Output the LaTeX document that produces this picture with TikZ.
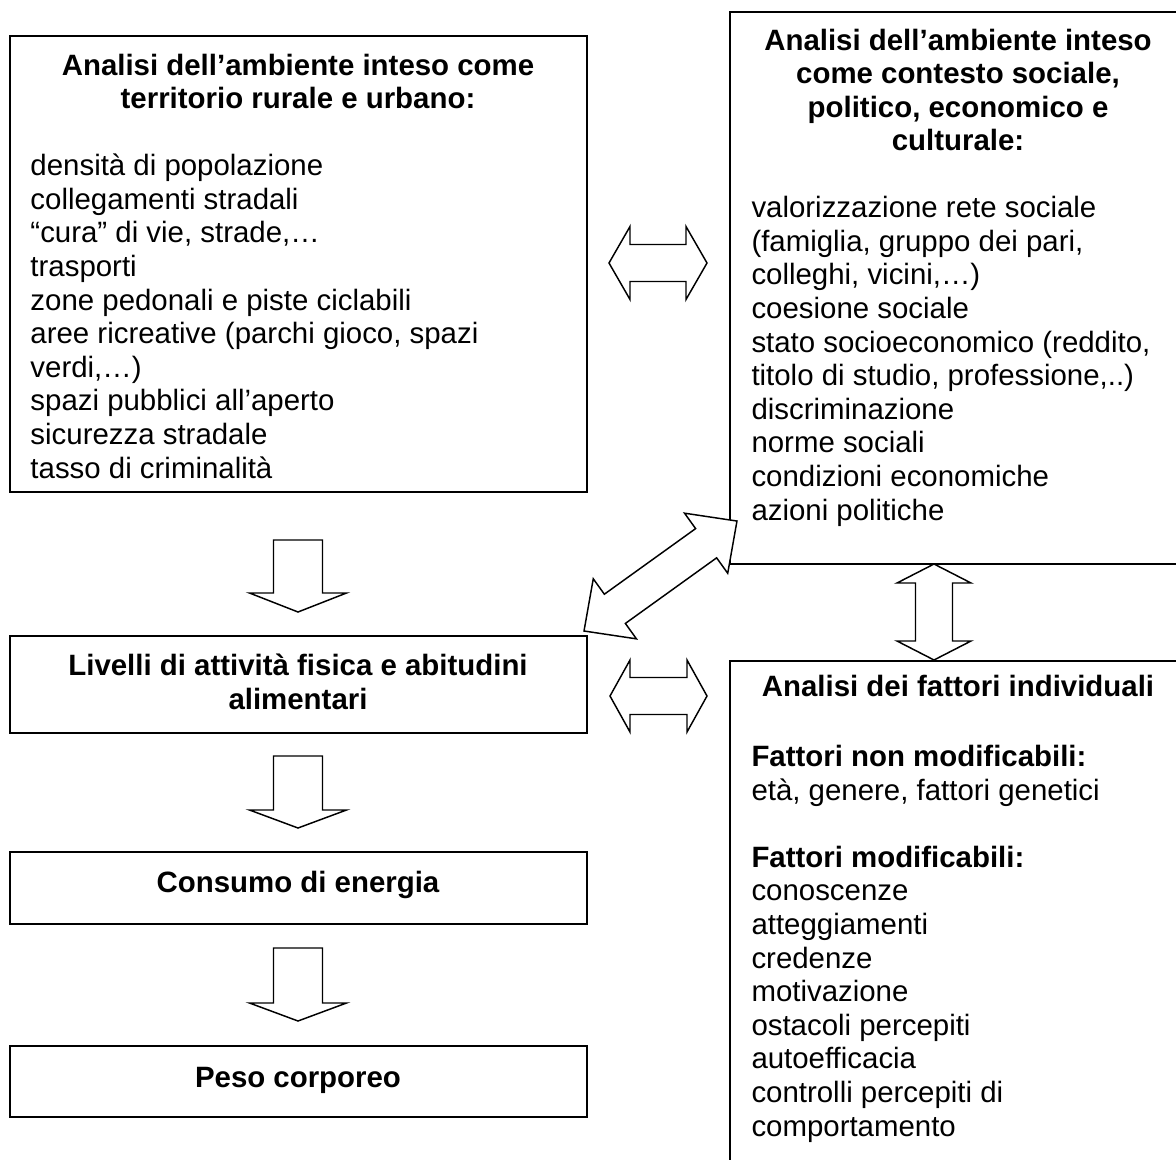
\documentclass[tikz,border=0pt]{standalone}
\usepackage{fontspec}
\setmainfont{Liberation Sans}
\usetikzlibrary{fit}
\newcommand\dblblock[4]{% length, half shaft, half head, head length
  \draw[blk] (0,0) -- (#4,#3) -- (#4,#2) -- ({#1-#4},#2) -- ({#1-#4},#3) -- (#1,0)
    -- ({#1-#4},-#3) -- ({#1-#4},-#2) -- (#4,-#2) -- (#4,-#3) -- cycle;}
\newcommand\sglblock[4]{% length, half shaft, half head, head length
  \draw[blk] (0,-#2) -- ({#1-#4},-#2) -- ({#1-#4},-#3) -- (#1,0) -- ({#1-#4},#3)
    -- ({#1-#4},#2) -- (0,#2) -- cycle;}
\begin{document}
\begin{tikzpicture}[x=0.408pt,y=-0.408pt,
  font=\fontsize{12}{13.7}\selectfont,
  box/.style={draw, line width=0.6pt, inner sep=0pt},
  blk/.style={draw, fill=white, line width=0.6pt, line join=miter},
  txt/.style={inner sep=0pt, align=left, anchor=base west},
  ttl/.style={inner sep=0pt, align=center, anchor=base, font=\fontsize{12}{13.7}\selectfont\bfseries}]
\useasboundingbox (0,0) rectangle (1176,1159);
\clip (0,0) rectangle (1176,1159);

% boxes
\node[box, fit={(10,36)(587,492)}] (envL) {};
\node[box, fit={(730,12)(1186,564)}] (envR) {};
\node[box, fit={(730,661)(1186,1170)}] (indR) {};
\node[box, fit={(10,636)(587,733)}] (liv) {};
\node[box, fit={(10,852)(587,924)}] (cons) {};
\node[box, fit={(10,1046)(587,1117)}] (peso) {};

% texts (anchored at the baseline of their last line)
\node[ttl] (envLt) at (298,109) {Analisi dell’ambiente inteso come\\territorio rurale e urbano:};
\node[txt] (envLb) at (30,478) {densità di popolazione\\collegamenti stradali\\“cura” di vie, strade,…\\trasporti\\zone pedonali e piste ciclabili\\aree ricreative (parchi gioco, spazi\\verdi,…)\\spazi pubblici all’aperto\\sicurezza stradale\\tasso di criminalità};

\node[ttl] (envRt) at (958,151) {Analisi dell’ambiente inteso\\come contesto sociale,\\politico, economico e\\culturale:};
\node[txt] (envRb) at (751,520) {valorizzazione rete sociale\\(famiglia, gruppo dei pari,\\colleghi, vicini,…)\\coesione sociale\\stato socioeconomico (reddito,\\titolo di studio, professione,..)\\discriminazione\\norme sociali\\condizioni economiche\\azioni politiche};

\node[ttl] (indRt) at (958,696) {Analisi dei fattori individuali};
\node[txt] (indRb) at (751,1136) {\textbf{Fattori non modificabili:}\\età, genere, fattori genetici\\[13.7pt]\textbf{Fattori modificabili:}\\conoscenze\\atteggiamenti\\credenze\\motivazione\\ostacoli percepiti\\autoefficacia\\controlli percepiti di\\comportamento};

\node[ttl] (livt) at (298,709) {Livelli di attività fisica e abitudini\\alimentari};
\node[ttl] (const) at (298,892) {Consumo di energia};
\node[ttl] (pesot) at (298,1087) {Peso corporeo};

% block arrows (anchor coordinates)
\coordinate (d1) at (298,540);
\coordinate (d2) at (298,756);
\coordinate (d3) at (298,948);
\coordinate (h1) at (609,263);
\coordinate (h2) at (610,696);
\coordinate (v1) at (934,564);
\coordinate (g1) at (584,631);

\begin{scope}[shift={(d1)}, rotate=-90]\sglblock{72}{24.5}{48.5}{19}\end{scope}
\begin{scope}[shift={(d2)}, rotate=-90]\sglblock{72}{24.5}{48.5}{18}\end{scope}
\begin{scope}[shift={(d3)}, rotate=-90]\sglblock{73}{24.5}{48.5}{18}\end{scope}
\begin{scope}[shift={(h1)}]\dblblock{98}{18.5}{36.5}{21}\end{scope}
\begin{scope}[shift={(h2)}]\dblblock{97}{18.5}{36}{20}\end{scope}
\begin{scope}[shift={(v1)}, rotate=-90]\dblblock{96}{18.5}{37}{19}\end{scope}
\begin{scope}[shift={(g1)}, rotate=35.71]\dblblock{188.4}{18}{37}{38}\end{scope}
\end{tikzpicture}
\end{document}
